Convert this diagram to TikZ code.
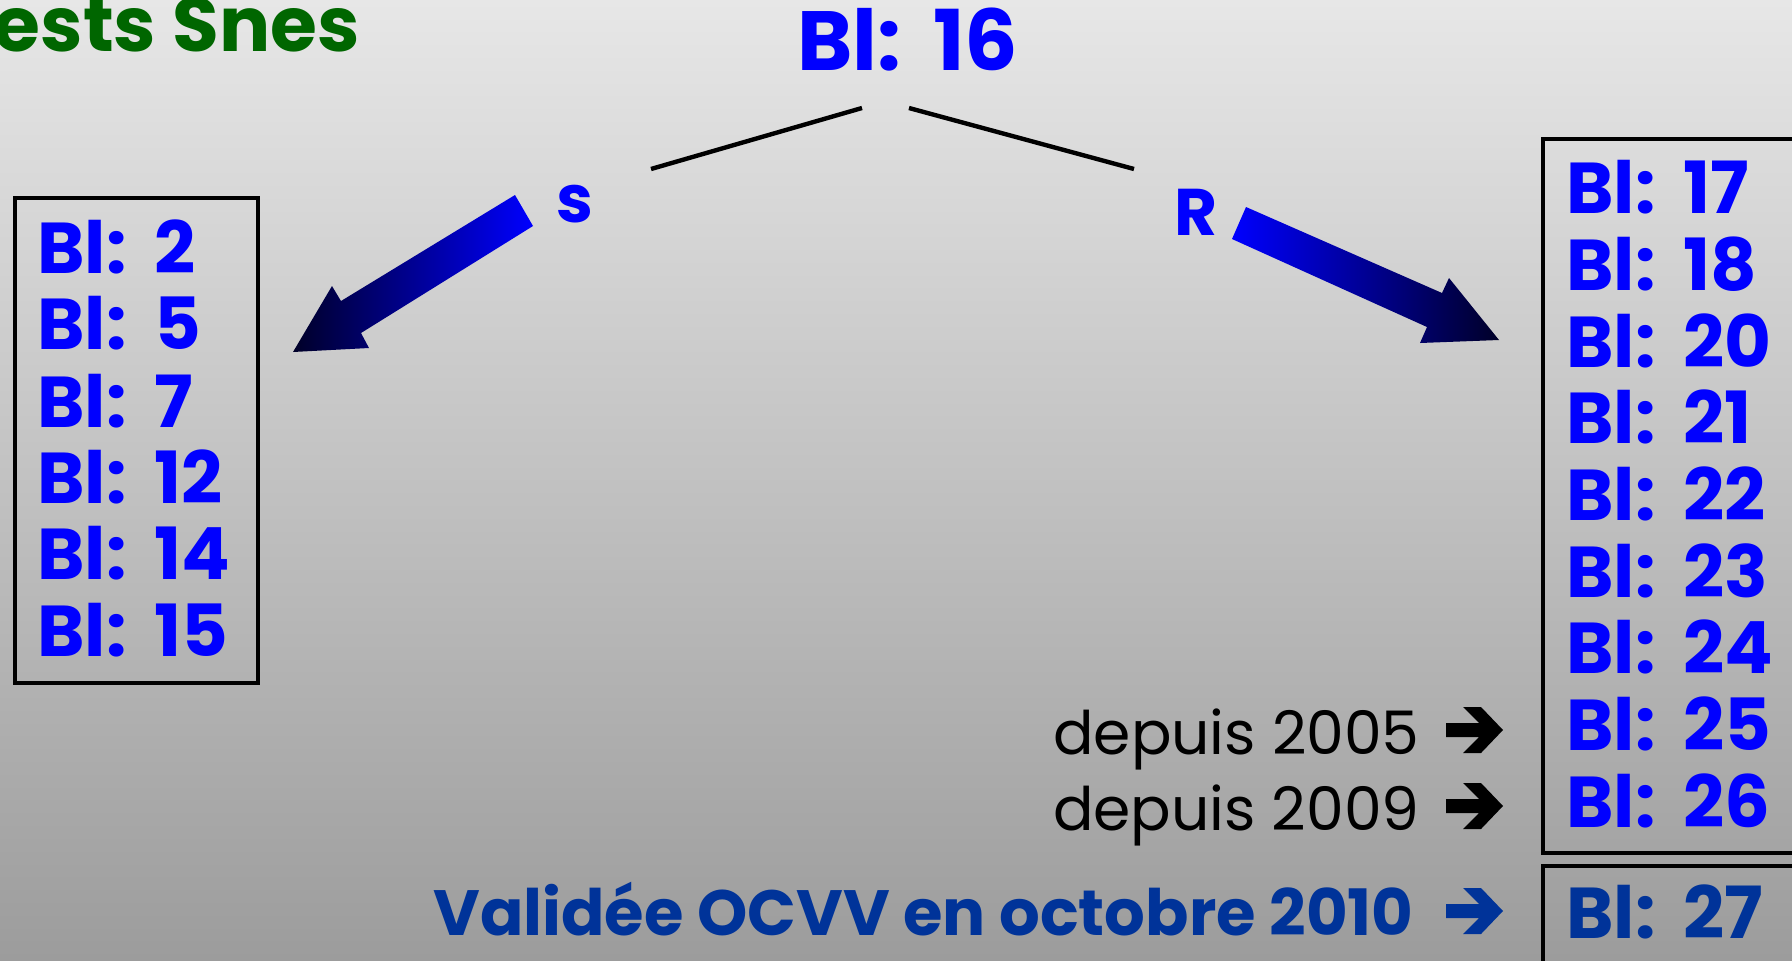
\documentclass[tikz,border=0pt]{standalone}
\usepackage{fontspec}
\setmainfont{Poppins}
\definecolor{bgtop}{HTML}{E7E7E7}
\definecolor{bgbot}{HTML}{9C9C9C}
\definecolor{blmain}{HTML}{0000FF}
\definecolor{bldark}{HTML}{003399}
\definecolor{tipdark}{HTML}{000028}
\definecolor{titlegreen}{HTML}{006600}
\newcommand{\blsp}{\hspace{4pt}}
\tikzset{
  bl/.style={text=blmain, font=\fontsize{36pt}{40pt}\selectfont\bfseries, inner sep=0pt, anchor=base west},
  topbl/.style={text=blmain, font=\fontsize{42pt}{46pt}\selectfont\bfseries, inner sep=0pt, anchor=base},
  lab/.style={text=blmain, font=\fontsize{33pt}{36pt}\selectfont\bfseries, inner sep=0pt, anchor=base},
  note/.style={text=black, font=\fontsize{30pt}{33pt}\selectfont, inner sep=0pt, anchor=base east},
  valid/.style={text=bldark, font=\fontsize{32pt}{35pt}\selectfont\bfseries, inner sep=0pt, anchor=base east},
  frame/.style={draw=black, line width=2pt},
  stem/.style={draw=black, line width=2.2pt},
  pics/harrow/.style={code={
    \fill[#1] (-57,-7) -- (-24,-7) -- (-40,-23) -- (-22,-23) -- (0,0) -- (-22,23) -- (-40,23) -- (-24,7) -- (-57,7) -- cycle;
  }},
}
\begin{document}
\begin{tikzpicture}[x=0.5pt,y=-0.5pt]
\shade[top color=bgtop, bottom color=bgbot] (0,0) rectangle (1792,960);
\useasboundingbox (0,0) rectangle (1792,960);
\clip (0,0) rectangle (1792,960);

% title (cut off at the top-left edge, as in the reference)
\node[text=titlegreen, font=\fontsize{38pt}{42pt}\selectfont\bfseries, inner sep=0pt, anchor=base east] (title) at (360,51) {ests Snes};

% root
\node[topbl] (root) at (908,70) {Bl:\blsp{} 16};
\coordinate (rootL) at (862,108);
\coordinate (rootR) at (909,108);
\coordinate (sEnd) at (651,169);
\coordinate (rEnd) at (1134,169);
\draw[stem] (rootL) -- (sEnd);
\draw[stem] (rootR) -- (rEnd);

% labels
\node[lab] (s) at (575,222) {s};
\node[lab] (R) at (1196,235) {R};

% block arrows
\shade[left color=tipdark, right color=blmain]
  (515,195) -- (533,226) -- (361,333) -- (369,348) -- (293,352) -- (332,286) -- (341,301) -- cycle;
\shade[left color=blmain, right color=tipdark]
  (1246,207) -- (1442,293) -- (1449,278) -- (1499,340) -- (1420,343) -- (1427,327) -- (1232,239) -- cycle;

% left box
\draw[frame, line width=1.75pt] (15,198) rectangle (258,683);
\node[bl] (b2)  at (37,273) {Bl:\blsp{} 2};
\node[bl] (b5)  at (37,349) {Bl:\blsp{} 5};
\node[bl] (b7)  at (37,427) {Bl:\blsp{} 7};
\node[bl] (b12) at (37,503) {Bl:\blsp{} 12};
\node[bl] (b14) at (37,579) {Bl:\blsp{} 14};
\node[bl] (b15) at (37,656) {Bl:\blsp{} 15};

% right box
\draw[frame] (1543,139) rectangle (1810,853);
\node[bl] (b17) at (1566,213) {Bl:\blsp{} 17};
\node[bl] (b18) at (1566,290) {Bl:\blsp{} 18};
\node[bl] (b20) at (1566,367) {Bl:\blsp{} 20};
\node[bl] (b21) at (1566,443) {Bl:\blsp{} 21};
\node[bl] (b22) at (1566,520) {Bl:\blsp{} 22};
\node[bl] (b23) at (1566,597) {Bl:\blsp{} 23};
\node[bl] (b24) at (1566,673) {Bl:\blsp{} 24};
\node[bl] (b25) at (1566,750) {Bl:\blsp{} 25};
\node[bl] (b26) at (1566,827) {Bl:\blsp{} 26};

% bottom box
\draw[frame] (1543,866) rectangle (1810,990);
\node[bl, text=bldark] (b27) at (1566,938) {Bl:\blsp{} 27};

% notes
\node[note] (n2005) at (1420,754) {depuis 2005};
\node[note] (n2009) at (1420,830) {depuis 2009};
\node[valid] (nvalid) at (1414,935) {Validée OCVV en octobre 2010};
\pic at (1503,730) {harrow=black};
\pic at (1503,806) {harrow=black};
\pic at (1503,911) {harrow=bldark};
\end{tikzpicture}
\end{document}
